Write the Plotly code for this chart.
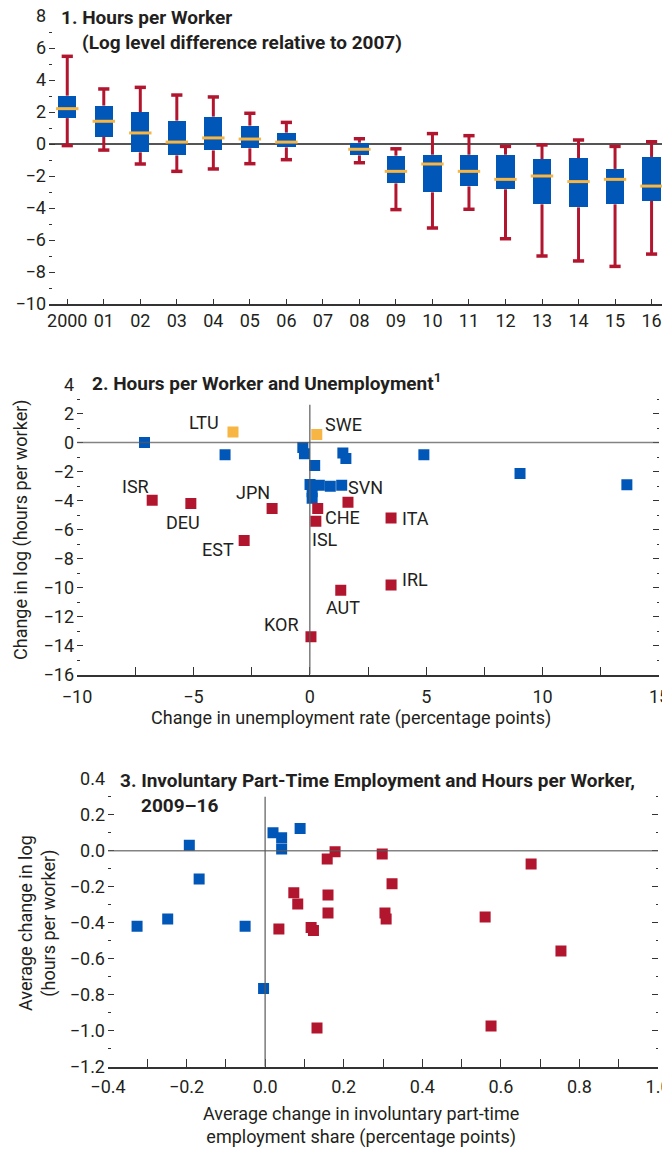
import plotly.graph_objects as go

# ---------------- data ----------------
# Panel 1: distribution of hours per worker (log level difference relative to 2007)
years = ["2000", "01", "02", "03", "04", "05", "06", "07", "08", "09",
         "10", "11", "12", "13", "14", "15", "16"]
whisker_hi = [5.48, 3.44, 3.54, 3.06, 2.94, 1.92, 1.35, None, 0.33, -0.30,
              0.65, 0.52, -0.15, -0.06, 0.25, -0.15, 0.14]
box_hi = [3.02, 2.40, 2.00, 1.46, 1.71, 1.15, 0.71, None, 0.08, -0.73,
          -0.67, -0.67, -0.67, -0.94, -0.88, -1.56, -0.81]
median = [2.21, 1.42, 0.69, 0.12, 0.38, 0.31, 0.12, None, -0.33, -1.71,
          -1.25, -1.71, -2.21, -2.00, -2.35, -2.21, -2.63]
box_lo = [1.62, 0.44, -0.52, -0.71, -0.40, -0.27, -0.21, None, -0.71, -2.46,
          -3.02, -2.65, -2.83, -3.77, -3.96, -3.77, -3.56]
whisker_lo = [-0.10, -0.38, -1.25, -1.71, -1.56, -1.23, -0.98, None, -1.17, -4.10,
              -5.25, -4.08, -5.92, -7.00, -7.31, -7.65, -6.88]

# Panel 2: change in unemployment rate vs change in log hours per worker
p2_blue_x = [-7.10, -3.64, -0.30, -0.23, 0.21, 1.42, 1.55, 4.90, 9.03, 13.62,
             0.01, 0.41, 0.88, 1.37, 0.10, 0.10]
p2_blue_y = [0.00, -0.85, -0.34, -0.78, -1.58, -0.73, -1.10, -0.85, -2.13, -2.91,
             -2.90, -2.95, -3.02, -2.95, -3.40, -3.85]
p2_red_names = ["ISR", "DEU", "JPN", "EST", "SVN", "CHE", "ISL", "ITA", "IRL", "AUT", "KOR"]
p2_red_x = [-6.77, -5.11, -1.62, -2.82, 1.64, 0.34, 0.26, 3.49, 3.49, 1.33, 0.05]
p2_red_y = [-3.99, -4.21, -4.56, -6.76, -4.12, -4.56, -5.43, -5.20, -9.83, -10.19, -13.40]
p2_orange_names = ["LTU", "SWE"]
p2_orange_x = [-3.30, 0.30]
p2_orange_y = [0.73, 0.55]

# Panel 3: involuntary part-time share vs hours per worker, 2009-16
p3_blue_x = [-0.326, -0.248, -0.193, -0.168, -0.051, 0.020, 0.042, 0.042, 0.089, -0.004]
p3_blue_y = [-0.420, -0.380, 0.030, -0.157, -0.420, 0.100, 0.072, 0.010, 0.124, -0.765]
p3_red_x = [0.035, 0.073, 0.083, 0.117, 0.123, 0.158, 0.160, 0.160, 0.178,
            0.298, 0.323, 0.305, 0.308, 0.560, 0.677, 0.753, 0.132, 0.575]
p3_red_y = [-0.435, -0.233, -0.296, -0.426, -0.444, -0.046, -0.246, -0.346, -0.006,
            -0.018, -0.183, -0.346, -0.380, -0.368, -0.074, -0.557, -0.985, -0.974]

# ---------------- style ----------------
WIN_W, WIN_H = 670, 1149
OFF = 8                      # default page (body) margin around the figure
W, H = WIN_W - OFF, WIN_H - OFF
FONT = "Roboto, Liberation Sans, sans-serif"
TXT = "#231f20"
BLUE = "#0057b8"
RED = "#b2162f"
ORANGE = "#f7b543"
FS = 18
FS_T = 19

# label offsets (pixels) for panel 2 country codes
label_shift = {
    "LTU": (-29, 9), "SWE": (27, 10), "ISR": (-17, 14), "DEU": (-8, -19),
    "JPN": (-19, 16), "EST": (-26, -9), "SVN": (18, 15), "CHE": (25, -9),
    "ISL": (9, -18), "ITA": (24, -1), "IRL": (24, 6), "AUT": (2, -17), "KOR": (-29, 12),
}


def px(a):
    return (a - OFF) / W


def py(b):
    return 1 - (b - OFF) / H


def xd(a, b):
    return [px(a), px(b)]


def yd(top, bottom):
    return [py(bottom), py(top)]


fig = go.Figure()

# ---- panel 1 ----
heights = [None if (a is None or b is None) else a - b for a, b in zip(box_hi, box_lo)]
fig.add_trace(go.Bar(x=years, y=heights, base=box_lo, width=0.5,
                     marker=dict(color=BLUE, line=dict(width=0)),
                     xaxis="x", yaxis="y", hoverinfo="skip"))

wx, wy = [], []
for yr, lo, q1, q3, hi in zip(years, whisker_lo, box_lo, box_hi, whisker_hi):
    if lo is None:
        continue
    wx += [yr, yr, None, yr, yr, None]
    wy += [q3, hi, None, q1, lo, None]
fig.add_trace(go.Scatter(x=wx, y=wy, mode="lines", line=dict(color=RED, width=3),
                         xaxis="x", yaxis="y", hoverinfo="skip"))
fig.add_trace(go.Scatter(x=years + years, y=whisker_hi + whisker_lo, mode="markers",
                         marker=dict(symbol="line-ew", size=8,
                                     line=dict(color=RED, width=3.5)),
                         xaxis="x", yaxis="y", hoverinfo="skip"))
fig.add_trace(go.Scatter(x=years, y=median, mode="markers",
                         marker=dict(symbol="line-ew", size=16,
                                     line=dict(color=ORANGE, width=3)),
                         xaxis="x", yaxis="y", hoverinfo="skip"))

# ---- panel 2 ----
sq = dict(symbol="square", size=11, line=dict(width=0))
fig.add_trace(go.Scatter(x=p2_blue_x, y=p2_blue_y, mode="markers",
                         marker=dict(color=BLUE, **sq), xaxis="x2", yaxis="y2"))
fig.add_trace(go.Scatter(x=p2_red_x, y=p2_red_y, mode="markers",
                         marker=dict(color=RED, **sq), xaxis="x2", yaxis="y2"))
fig.add_trace(go.Scatter(x=p2_orange_x, y=p2_orange_y, mode="markers",
                         marker=dict(color=ORANGE, **sq), xaxis="x2", yaxis="y2"))

# ---- panel 3 ----
fig.add_trace(go.Scatter(x=p3_blue_x, y=p3_blue_y, mode="markers",
                         marker=dict(color=BLUE, **sq), xaxis="x3", yaxis="y3"))
fig.add_trace(go.Scatter(x=p3_red_x, y=p3_red_y, mode="markers",
                         marker=dict(color=RED, **sq), xaxis="x3", yaxis="y3"))

tickfont = dict(family=FONT, size=FS, color=TXT)


def yax(domain, rng, dtick, minor_dtick, anchor, fmt=None):
    d = dict(domain=domain, range=rng, dtick=dtick, tick0=0, anchor=anchor,
             ticks="inside", ticklen=6, tickwidth=1.3, tickcolor="#333",
             mirror="ticks", showline=False, showgrid=False, zeroline=False,
             tickfont=tickfont, fixedrange=True, ticklabelstandoff=2, automargin=False,
             ticklabeloverflow="allow",
             minor=dict(dtick=minor_dtick, tick0=0, ticks="inside", ticklen=2.5,
                        tickwidth=1.3, tickcolor="#333", showgrid=False))
    if fmt:
        d["tickformat"] = fmt
    return d


def xax(domain, rng, dtick, minor_dtick, anchor, standoff, fmt=None):
    d = dict(domain=domain, range=rng, dtick=dtick, tick0=0, anchor=anchor,
             ticks="inside", ticklen=8, tickwidth=1.3, tickcolor="#333",
             showline=True, linecolor="#333", linewidth=1.5, tickangle=0,
             showgrid=False, zeroline=False, tickfont=tickfont, fixedrange=True,
             ticklabelstandoff=standoff, automargin=False, ticklabeloverflow="allow",
             minor=dict(dtick=minor_dtick, tick0=0, ticks="inside", ticklen=8,
                        tickwidth=1.3, tickcolor="#333", showgrid=False))
    if fmt:
        d["tickformat"] = fmt
    return d


fig.update_layout(
    width=W, height=H, autosize=False,
    margin=dict(l=0, r=0, t=0, b=0, pad=0, autoexpand=False),
    paper_bgcolor="white", plot_bgcolor="white", showlegend=False,
    font=dict(family=FONT, size=FS, color=TXT),
    xaxis=dict(domain=xd(49, 668), type="category", categoryorder="array",
               categoryarray=years, range=[-0.5, 16.45], anchor="y",
               ticks="inside", ticklen=5, tickwidth=1.3, tickcolor="#333",
               showline=True, linecolor="#333", linewidth=1.5, showgrid=False,
               tickangle=0, tickfont=tickfont, fixedrange=True, automargin=False,
               ticklabeloverflow="allow"),
    yaxis=dict(yax(yd(16, 304), [-10, 8], 2, 1, "x"),
               zeroline=True, zerolinecolor="#555", zerolinewidth=1.6),
    xaxis2=xax(xd(77, 659), [-10, 15], 5, 2.5, "y2", 5),
    yaxis2=yax(yd(384.5, 674.5), [-16, 4], 2, 1, "x2"),
    xaxis3=xax(xd(108, 658), [-0.4, 1.0], 0.2, 0.1, "y3", 3, fmt=".1f"),
    yaxis3=yax(yd(778.7, 1066.7), [-1.2, 0.4], 0.2, 0.1, "x3", fmt=".1f"),
    bargap=0,
)

# reference lines in scatter panels
LINE = dict(color="rgba(90,90,90,0.75)", width=1.6)
fig.add_shape(type="line", xref="x2 domain", yref="y2", x0=0, x1=1, y0=0, y1=0,
              line=LINE, layer="above")
fig.add_shape(type="line", xref="x2", yref="y2", x0=0, x1=0, y0=-16, y1=2.6,
              line=LINE, layer="above")
fig.add_shape(type="line", xref="x3 domain", yref="y3", x0=0, x1=1, y0=0, y1=0,
              line=LINE, layer="above")
fig.add_shape(type="line", xref="x3", yref="y3", x0=0, x1=0, y0=-1.2, y1=0.3,
              line=LINE, layer="above")

# country labels in panel 2
for names, xs, ys in [(p2_red_names, p2_red_x, p2_red_y),
                      (p2_orange_names, p2_orange_x, p2_orange_y)]:
    for n, xv, yv in zip(names, xs, ys):
        dx, dy = label_shift[n]
        fig.add_annotation(x=xv, y=yv, xref="x2", yref="y2", text=n, showarrow=False,
                           xshift=dx, yshift=dy, font=dict(family=FONT, size=FS, color=TXT))


def ann(text, x, y, xanchor="left", bold=False, angle=0, yanchor="middle", size=FS):
    t = f"<b>{text}</b>" if bold else text
    fig.add_annotation(x=px(x), y=py(y), xref="paper", yref="paper", text=t,
                       showarrow=False, xanchor=xanchor, yanchor=yanchor, textangle=angle,
                       font=dict(family=FONT, size=size, color=TXT))


# titles
ann("1. Hours per Worker", 59, 18, bold=True, size=FS_T)
ann("(Log level difference relative to 2007)", 80, 42, bold=True, size=FS_T)
ann("2. Hours per Worker and Unemployment<sup>1</sup>", 90, 382, bold=True, size=FS_T)
ann("3. Involuntary Part-Time Employment and Hours per Worker,", 118, 780, bold=True, size=FS_T)
ann("2009–16", 139, 805, bold=True, size=FS_T)

# axis titles
ann("Change in unemployment rate (percentage points)", 351, 718, xanchor="center")
ann("Change in log (hours per worker)", 21, 530, xanchor="center", angle=-90)
ann("Average change in involuntary part-time<br>employment share (percentage points)",
    361, 1125, xanchor="center")
ann("Average change in log<br>(hours per worker)", 37, 923, xanchor="center", angle=-90)

fig.write_html("out.html")
